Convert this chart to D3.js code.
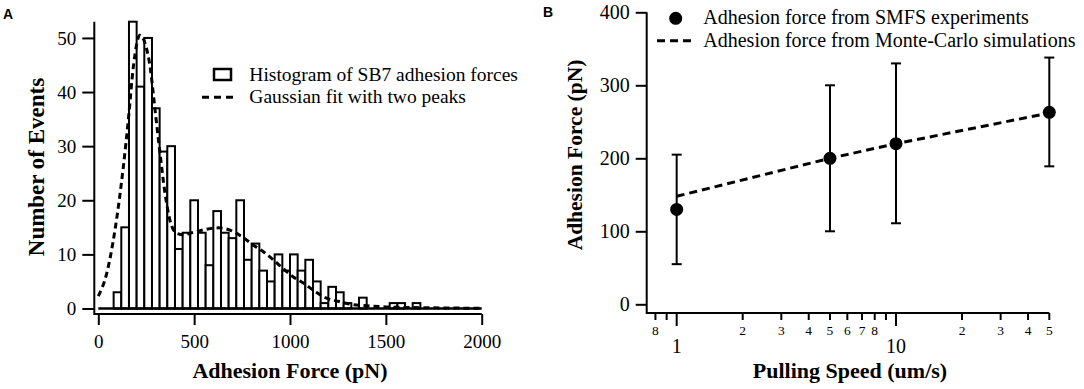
<!DOCTYPE html>
<html>
<head>
<meta charset="utf-8">
<script src="https://cdn.jsdelivr.net/npm/d3@7"></script>
<style>
  html, body { margin: 0; padding: 0; background: #fff; }
  svg { display: block; }
  text { fill: #000; }
</style>
</head>
<body>
<svg id="chart" width="1084" height="389"></svg>
<script>
// ---- panel A data : histogram of adhesion forces (bin width 40 pN, first bin at 80 pN)
const binStart = 80;
const binWidth = 40;
const counts = [3, 15, 53, 41, 50, 37, 29, 30, 11, 14, 20, 14, 8, 18, 14, 13, 20, 9, 12, 7,
                5, 10, 7, 10, 7, 9, 5, 1, 4, 3, 1, 0, 2, 0, 0, 0, 1, 1, 0, 1];
// gaussian fit (two peaks)
const fitForce = [0, 44, 87, 130, 157, 183, 217, 244, 270, 296, 322, 348, 374, 409, 450, 478, 557,
                  626, 687, 748, 809, 861, 913, 957, 1014, 1070, 1134, 1191, 1255, 1312, 1400,
                  1500, 1600, 1800, 2000];
const fitCount = [2.3, 6.5, 14.5, 26, 35, 44.7, 50.5, 49, 44.7, 36.7, 28.7, 21.3, 16.3, 13.9, 13.6,
                  13.9, 14.6, 14.9, 14.5, 13.3, 11.7, 10.5, 9.0, 7.6, 5.9, 4.7, 3.1, 1.9, 1.3, 0.8,
                  0.5, 0.3, 0.2, 0.1, 0.05];
const forceTicks = [0, 500, 1000, 1500, 2000];
const eventTicks = [0, 10, 20, 30, 40, 50];
const legendA = ["Histogram of SB7 adhesion forces", "Gaussian fit with two peaks"];

// ---- panel B data : adhesion force vs pulling speed
const speeds = [1, 5, 10, 50];
const smfsForce = [130, 200, 220, 263];
const smfsHigh = [205, 300, 330, 338];
const smfsLow = [55, 100, 111, 189];
const mcForce = [148, 200, 220, 262];
const adhTicks = [0, 100, 200, 300, 400];
const speedMajor = [1, 10];
const speedMinor = [0.8, 0.9, 2, 3, 4, 5, 6, 7, 8, 9, 20, 30, 40, 50];
const speedMinorLabels = ["8", "", "2", "3", "4", "5", "6", "7", "8", "", "2", "3", "4", "5"];
const legendB = ["Adhesion force from SMFS experiments", "Adhesion force from Monte-Carlo simulations"];

const serif = "'Liberation Serif', 'Times New Roman', serif";
const svg = d3.select("#chart");

/* ================= panel A ================= */
const xA = d3.scaleLinear().domain([0, 2000]).range([98.3, 481.7]);
const yA = d3.scaleLinear().domain([0, 53]).range([308.5, 21.7]);
const axAx = 94.3, axAy = 314;

let gA = svg.append("g");

// bars
gA.selectAll(".bar")
    .data(counts)
    .enter()
    .append("rect")
    .attr("class", "bar")
    .attr("x", (d, i) => xA(binStart + i * binWidth))
    .attr("width", (d, i) => xA(binStart + (i + 1) * binWidth) - xA(binStart + i * binWidth))
    .attr("y", (d) => yA(d))
    .attr("height", (d) => yA(0) - yA(d))
    .attr("fill", "white")
    .attr("stroke", "black")
    .attr("stroke-width", 2)
    .attr("display", (d) => d > 0 ? null : "none");

gA.append("line") /* zero line of the histogram */
    .attr("x1", xA(0)).attr("x2", xA(2000))
    .attr("y1", yA(0)).attr("y2", yA(0))
    .attr("stroke", "black").attr("stroke-width", 2.5);

// gaussian fit
gA.append("path")
    .datum(fitForce.map((f, i) => [f, fitCount[i]]))
    .attr("fill", "none")
    .attr("stroke", "black")
    .attr("stroke-width", 3)
    .attr("stroke-dasharray", "6 4")
    .attr("d", d3.line().x((d) => xA(d[0])).y((d) => yA(d[1])).curve(d3.curveMonotoneX));

// axes
let yAxisA = gA.append("g")
    .attr("transform", `translate(${axAx},0)`)
    .call(d3.axisLeft(yA).tickValues(eventTicks).tickSize(12).tickPadding(6));
let xAxisA = gA.append("g")
    .attr("transform", `translate(0,${axAy})`)
    .call(d3.axisBottom(xA).tickValues(forceTicks).tickFormat(d3.format("d")).tickSize(11).tickPadding(10));
[yAxisA, xAxisA].forEach((g) => {
    g.select(".domain").remove();
    g.selectAll("line").attr("stroke", "black").attr("stroke-width", 2);
    g.selectAll("text").attr("font-family", serif).attr("font-size", 19).attr("fill", "black");
});
gA.append("path")
    .attr("d", `M${axAx},${yA(53)}V${axAy}H${xA(2000)}`)
    .attr("fill", "none").attr("stroke", "black").attr("stroke-width", 2);

// titles
gA.append("text")
    .attr("transform", "translate(44,167) rotate(-90)")
    .attr("text-anchor", "middle")
    .attr("font-family", serif).attr("font-weight", "bold").attr("font-size", 23)
    .text("Number of Events");
gA.append("text")
    .attr("x", 290).attr("y", 378)
    .attr("text-anchor", "middle")
    .attr("font-family", serif).attr("font-weight", "bold").attr("font-size", 22)
    .text("Adhesion Force (pN)");
gA.append("text")
    .attr("x", 3).attr("y", 18.5)
    .attr("font-family", "'Liberation Sans', Arial, sans-serif").attr("font-weight", "bold").attr("font-size", 14)
    .text("A");

// legend
gA.append("rect")
    .attr("x", 214).attr("y", 69).attr("width", 17).attr("height", 11)
    .attr("fill", "white").attr("stroke", "black").attr("stroke-width", 2.5);
gA.append("line")
    .attr("x1", 202).attr("x2", 236).attr("y1", 97.3).attr("y2", 97.3)
    .attr("stroke", "black").attr("stroke-width", 3).attr("stroke-dasharray", "7 5");
gA.selectAll(".legA")
    .data(legendA)
    .enter()
    .append("text")
    .attr("class", "legA")
    .attr("x", 249.3)
    .attr("y", (d, i) => 80.7 + i * 22.6)
    .attr("font-family", serif).attr("font-size", 19.5)
    .text((d) => d);

/* ================= panel B ================= */
const xB = d3.scaleLog().domain([0.73, 50]).range([646.7, 1049.3]);
const yB = d3.scaleLinear().domain([0, 400]).range([304.3, 12.3]);
const axBx = 646.7, axBy = 313;

let gB = svg.append("g");

let yAxisB = gB.append("g")
    .attr("transform", `translate(${axBx},0)`)
    .call(d3.axisLeft(yB).tickValues(adhTicks).tickSize(11).tickPadding(6));
yAxisB.select(".domain").remove();
yAxisB.selectAll("line").attr("stroke", "black").attr("stroke-width", 2);
yAxisB.selectAll("text").attr("font-family", serif).attr("font-size", 20).attr("fill", "black");

gB.append("path")
    .attr("d", `M${axBx},${yB(400)}V${axBy}H${xB(50)}`)
    .attr("fill", "none").attr("stroke", "black").attr("stroke-width", 2);

// log x axis : minor and major ticks
gB.selectAll(".minTick")
    .data(speedMinor)
    .enter()
    .append("line")
    .attr("x1", (d) => xB(d)).attr("x2", (d) => xB(d))
    .attr("y1", axBy).attr("y2", axBy + 7)
    .attr("stroke", "black").attr("stroke-width", 2);
gB.selectAll(".minLab")
    .data(speedMinor)
    .enter()
    .append("text")
    .attr("x", (d) => xB(d)).attr("y", axBy + 22)
    .attr("text-anchor", "middle")
    .attr("font-family", serif).attr("font-size", 13.5)
    .text((d, i) => speedMinorLabels[i]);
gB.selectAll(".majTick")
    .data(speedMajor)
    .enter()
    .append("line")
    .attr("x1", (d) => xB(d)).attr("x2", (d) => xB(d))
    .attr("y1", axBy).attr("y2", axBy + 13)
    .attr("stroke", "black").attr("stroke-width", 2);
gB.selectAll(".majLab")
    .data(speedMajor)
    .enter()
    .append("text")
    .attr("x", (d) => xB(d)).attr("y", axBy + 40)
    .attr("text-anchor", "middle")
    .attr("font-family", serif).attr("font-size", 20)
    .text((d) => d);

// monte-carlo line
gB.append("path")
    .datum(speeds.map((s, i) => [s, mcForce[i]]))
    .attr("fill", "none")
    .attr("stroke", "black").attr("stroke-width", 3)
    .attr("stroke-dasharray", "8 5")
    .attr("d", d3.line().x((d) => xB(d[0])).y((d) => yB(d[1])));

// error bars + points
let eb = gB.selectAll(".err")
    .data(speeds)
    .enter()
    .append("g");
eb.append("line")
    .attr("x1", (d) => xB(d)).attr("x2", (d) => xB(d))
    .attr("y1", (d, i) => yB(smfsHigh[i])).attr("y2", (d, i) => yB(smfsLow[i]))
    .attr("stroke", "black").attr("stroke-width", 2);
eb.append("line")
    .attr("x1", (d) => xB(d) - 5).attr("x2", (d) => xB(d) + 5)
    .attr("y1", (d, i) => yB(smfsHigh[i])).attr("y2", (d, i) => yB(smfsHigh[i]))
    .attr("stroke", "black").attr("stroke-width", 2);
eb.append("line")
    .attr("x1", (d) => xB(d) - 5).attr("x2", (d) => xB(d) + 5)
    .attr("y1", (d, i) => yB(smfsLow[i])).attr("y2", (d, i) => yB(smfsLow[i]))
    .attr("stroke", "black").attr("stroke-width", 2);
eb.append("circle")
    .attr("cx", (d) => xB(d)).attr("cy", (d, i) => yB(smfsForce[i]))
    .attr("r", 6.5).attr("fill", "black");

// titles
gB.append("text")
    .attr("transform", "translate(582,155) rotate(-90)")
    .attr("text-anchor", "middle")
    .attr("font-family", serif).attr("font-weight", "bold").attr("font-size", 21.5)
    .text("Adhesion Force (pN)");
gB.append("text")
    .attr("x", 850).attr("y", 378)
    .attr("text-anchor", "middle")
    .attr("font-family", serif).attr("font-weight", "bold").attr("font-size", 22)
    .text("Pulling Speed (um/s)");
gB.append("text")
    .attr("x", 543).attr("y", 16.7)
    .attr("font-family", "'Liberation Sans', Arial, sans-serif").attr("font-weight", "bold").attr("font-size", 14)
    .text("B");

// legend
gB.append("circle").attr("cx", 675.7).attr("cy", 18.3).attr("r", 6.5).attr("fill", "black");
gB.append("line")
    .attr("x1", 657).attr("x2", 692).attr("y1", 40.7).attr("y2", 40.7)
    .attr("stroke", "black").attr("stroke-width", 3).attr("stroke-dasharray", "8 5");
gB.selectAll(".legB")
    .data(legendB)
    .enter()
    .append("text")
    .attr("x", 703.3)
    .attr("y", (d, i) => 24 + i * 22.7)
    .attr("font-family", serif).attr("font-size", 20)
    .text((d) => d);
</script>
</body>
</html>
